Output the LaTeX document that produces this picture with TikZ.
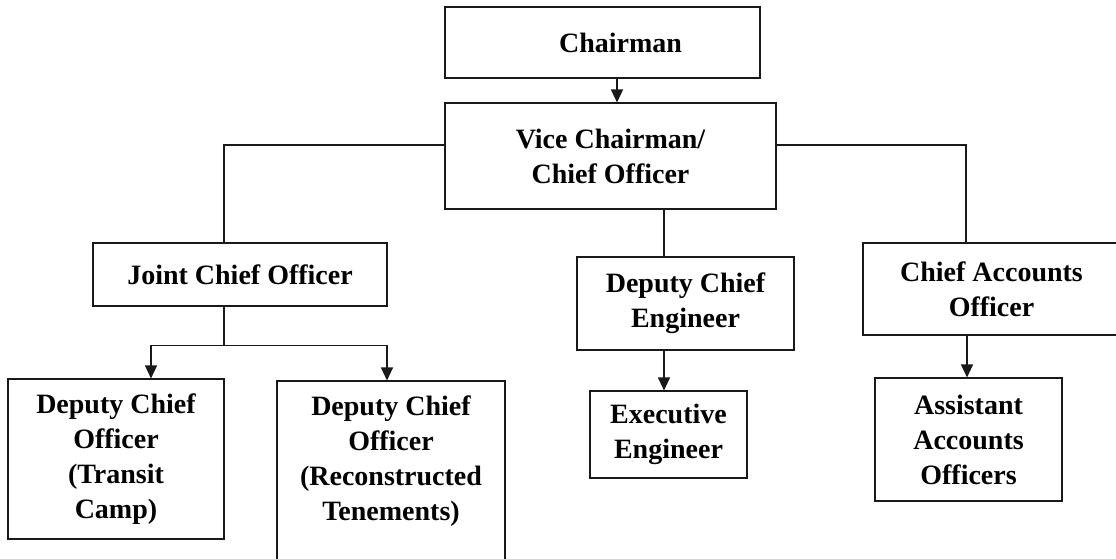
\documentclass[tikz,border=0pt]{standalone}
\usepackage{fontspec}
\setmainfont{Liberation Serif}
\usetikzlibrary{arrows.meta}

\begin{document}
\begin{tikzpicture}[x=1pt, y=-1pt,
    office/.style={draw=black!90, line width=1.1pt, align=center, inner sep=0pt,
      font=\bfseries\fontsize{28}{35}\selectfont},
    link/.style={draw=black!90, line width=1.1pt},
    down/.style={link, -{Triangle[length=13pt,width=12pt]}}]
      \useasboundingbox (0,0) rectangle (1116,558);
      \clip (0,0) rectangle (1116,558);
      \node[office, minimum width=315pt, minimum height=71pt] (chair) at (602.5,42.5) {\hspace*{36pt}Chairman};
      \node[office, minimum width=331pt, minimum height=106pt] (vc) at (610.5,156) {Vice Chairman/\\Chief Officer};
      \node[office, minimum width=294pt, minimum height=63pt] (jco) at (240,274.5) {Joint Chief Officer};
      \node[office, minimum width=217pt, minimum height=93pt] (dce) at (685.5,303.5) {Deputy Chief\\Engineer};
      \node[office, minimum width=257pt, minimum height=92pt] (cao) at (991.5,289) {Chief Accounts\\Officer};
      \node[office, minimum width=216pt, minimum height=160pt] (dcot) at (116,459) {Deputy Chief\\Officer\\(Transit\\Camp)};
      \node[office, minimum width=228pt, minimum height=189pt] (dcor) at (391,475.5) {Deputy Chief\\Officer\\(Reconstructed\\Tenements)\\\mbox{}};
      \node[office, minimum width=157pt, minimum height=87pt] (exe) at (668.5,434.5) {Executive\\Engineer};
      \node[office, minimum width=187pt, minimum height=123pt] (aao) at (968.5,439.5) {Assistant\\Accounts\\Officers};
      \coordinate (fork) at ([xshift=-16pt,yshift=-39pt]jco.south);
      % vice chairman to the three branches
      \path[link]
      ([yshift=11pt]vc.west) -| ([xshift=-16pt]jco.north)
      ([yshift=11pt]vc.east) -| ([xshift=-25.5pt]cao.north)
      ([xshift=53.5pt]vc.south) -- ([xshift=53.5pt]vc.south |- dce.north)
      ([xshift=-16pt]jco.south) -- (fork);
      \path[down]
      ([xshift=14.5pt]chair.south) -- ([xshift=14.5pt]chair.south |- vc.north);
      \path[down] (fork) -| ([xshift=35pt]dcot.north);
      \path[down] (fork) -| ([xshift=-4pt]dcor.north);
      \path[down] ([xshift=-21.5pt]dce.south) -- ([xshift=-21.5pt]dce.south |- exe.north);
      \path[down] ([xshift=-24.5pt]cao.south) -- ([xshift=-24.5pt]cao.south |- aao.north);
    \end{tikzpicture}
\end{document}
